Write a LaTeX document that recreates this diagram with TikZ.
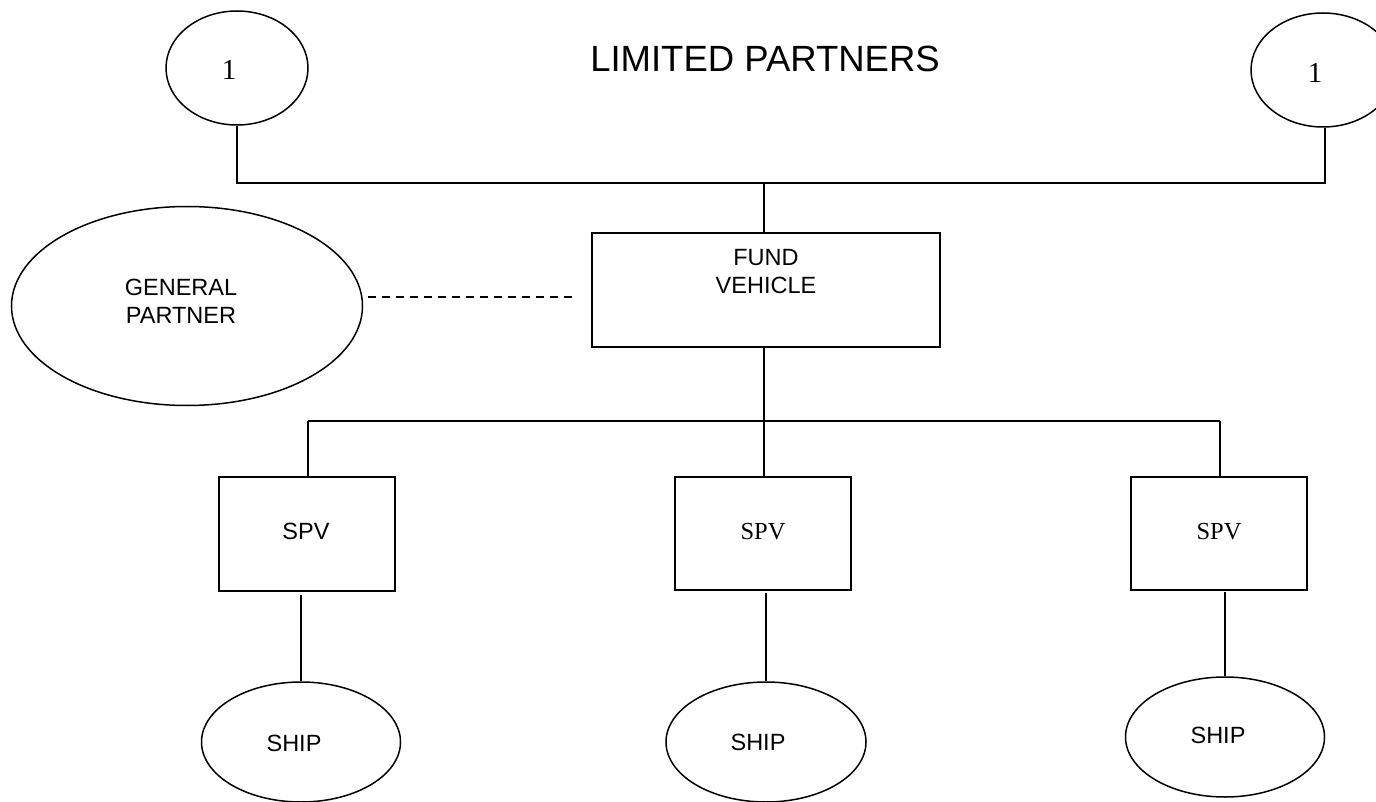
\documentclass[tikz,border=0pt]{standalone}
\usepackage{fontspec}
\setmainfont{Liberation Sans}
\newfontfamily\serifface{Liberation Serif}
\usetikzlibrary{shapes.geometric}

\tikzset{
  oval/.style={draw, ellipse, line width=1.5pt, inner sep=0pt},
  box/.style={draw, rectangle, line width=2.2pt, inner sep=0pt},
  link/.style={line width=2pt},
  lbl/.style={font=\fontsize{23.5}{28}\selectfont, align=center, inner sep=0pt},
  seriflbl/.style={font=\serifface\fontsize{24.5}{28}\selectfont, inner sep=0pt},
}

\begin{document}
\begin{tikzpicture}[x=1pt, y=-1pt]
  \useasboundingbox (0,0) rectangle (1376,802);

  % title
  \node[font=\fontsize{36.5}{40}\selectfont, inner sep=0pt] (title) at (765,59) {LIMITED PARTNERS};

  % limited partner ovals
  \node[oval, minimum width=142pt, minimum height=114pt] (lpL) at (237,68) {};
  \node[seriflbl, font=\serifface\fontsize{29}{32}\selectfont] (lpLt) at (229,70) {1};
  \node[oval, minimum width=144pt, minimum height=114pt] (lpR) at (1323,70) {};
  \node[seriflbl, font=\serifface\fontsize{29}{32}\selectfont] (lpRt) at (1315,73) {1};

  % general partner
  \node[oval, minimum width=351pt, minimum height=199pt] (gp) at (187,306) {};
  \node[lbl] (gpt) at (181,301) {GENERAL\\PARTNER};

  % fund vehicle
  \node[box, minimum width=348pt, minimum height=114pt] (fund) at (766,290) {};
  \node[lbl] (fundt) at (766,272) {FUND\\VEHICLE};

  % SPVs
  \node[box, minimum width=176pt, minimum height=114pt] (spvA) at (307,534) {};
  \node[lbl] (spvAt) at (306,531) {SPV};
  \node[box, minimum width=176pt, minimum height=113pt] (spvB) at (763,533.5) {};
  \node[seriflbl] (spvBt) at (763,532) {SPV};
  \node[box, minimum width=176pt, minimum height=113pt] (spvC) at (1219,533.5) {};
  \node[seriflbl] (spvCt) at (1219,532) {SPV};

  % ships
  \node[oval, minimum width=199pt, minimum height=120pt] (shipA) at (301,742) {};
  \node[lbl] (shipAt) at (294,743) {SHIP};
  \node[oval, minimum width=200pt, minimum height=120pt] (shipB) at (766,742) {};
  \node[lbl] (shipBt) at (758,742) {SHIP};
  \node[oval, minimum width=199pt, minimum height=120pt] (shipC) at (1225,737) {};
  \node[lbl] (shipCt) at (1218,735) {SHIP};

  % bus coordinates
  \coordinate (topL) at (237,183);
  \coordinate (topR) at (1325,183);
  \coordinate (topM) at (764,183);
  \coordinate (busL) at (308,421);
  \coordinate (busR) at (1220,421);
  \coordinate (busM) at (764,421);
  \coordinate (dashA) at (368,297);
  \coordinate (dashB) at (576,297);

  % limited partners to fund
  \draw[link] (lpL.south) -- (topL) -- (topR) -- (lpR.south -| topR);
  \draw[link] (topM) -- (topM |- fund.north);

  % general partner relation
  \draw[line width=1.2pt, dash pattern=on 8pt off 6pt] (dashA) -- (dashB);

  % fund to SPVs
  \draw[link] (fund.south -| busM) -- (busM) -- (spvB.north -| busM);
  \draw[link] (busL) -- (busR);
  \draw[link] (busL) -- (busL |- spvA.north);
  \draw[link] (busR) -- (busR |- spvC.north);

  % SPVs to ships
  \draw[link] (301,595) -- (shipA.north);
  \draw[link] (766,593) -- (shipB.north);
  \draw[link] (1225,592) -- (shipC.north);
\end{tikzpicture}
\end{document}
